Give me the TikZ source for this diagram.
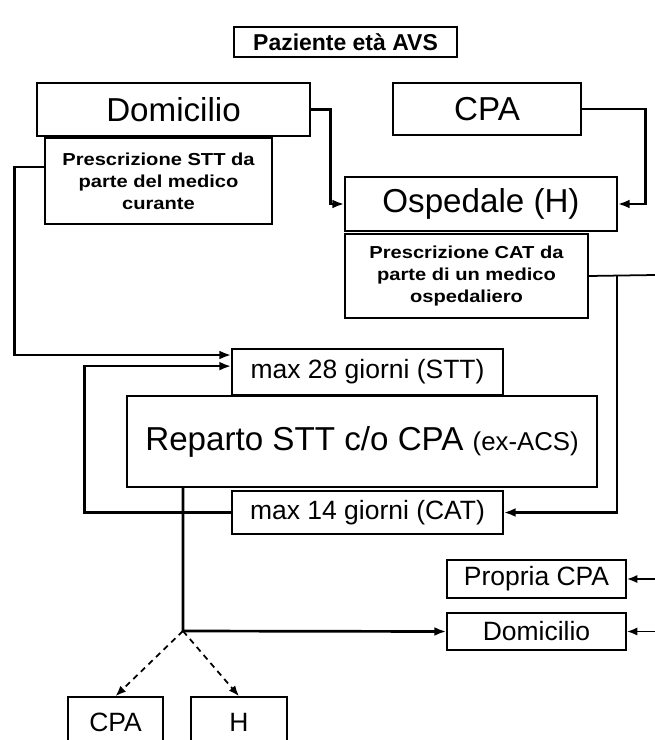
\documentclass[tikz,border=0pt]{standalone}
\usepackage{fontspec}
\setmainfont{Liberation Sans}
\newfontfamily\notefont[FakeStretch=1.16]{Liberation Sans}
\usetikzlibrary{arrows.meta, positioning}
\tikzset{box/.style={rectangle,draw,line width=1.4pt,align=center,inner sep=0pt},
  bigbox/.style={box,font=\fontsize{28.3}{34}\selectfont},
  midbox/.style={box,font=\fontsize{22.6}{27}\selectfont},
  notebox/.style={box,font=\notefont\bfseries\fontsize{14.8}{18.7}\selectfont},
  line/.style={line width=2.3pt},
  arrow/.style={line width=2.3pt,-{Latex[length=10pt,width=7.5pt]}},
  thinarrow/.style={line width=1.5pt,-{Latex[length=9pt,width=7pt]}}}

\begin{document}
\begin{tikzpicture}[x=0.03cm,y=-0.03cm]
\useasboundingbox (0,0) rectangle (655,740);
\node[box, line width=1.8pt, minimum width=6.69cm, minimum height=0.9cm,
  font=\bfseries\fontsize{19.6}{23}\selectfont] (title) at (345.5,42) {Paziente età AVS};
\node[bigbox, minimum width=8.19cm, minimum height=1.59cm] (dom) at (173.5,109.5) {Domicilio};
\node[notebox, minimum width=6.81cm, minimum height=2.58cm] (stt) at (158.5,181) {Prescrizione STT da\\parte del medico\\curante};
\node[bigbox, minimum width=5.64cm, minimum height=1.56cm] (cpa) at (487,109) {CPA};
\node[bigbox, minimum width=8.16cm, minimum height=1.62cm] (osp) at (481,204) {Ospedale (H)};
\node[notebox, minimum width=7.29cm, minimum height=2.52cm] (cat) at (466.5,276) {Prescrizione CAT da\\parte di un medico\\ospedaliero};
\node[midbox, minimum width=8.13cm, minimum height=1.38cm] (max28) at (367.5,372) {max 28 giorni (STT)};
\node[bigbox, minimum width=14.1cm, minimum height=2.73cm] (rep) at (362,441.5) {Reparto STT c/o CPA {\fontsize{22}{26}\selectfont(ex-ACS)}};
\node[midbox, minimum width=8.13cm, minimum height=1.29cm] (max14) at (367.5,512.5) {max 14 giorni (CAT)};
\node[midbox, minimum width=5.37cm, minimum height=1.14cm] (propria) at (536.5,579) {Propria CPA};
\node[midbox, minimum width=5.37cm, minimum height=1.11cm] (dom2) at (536.5,631.5) {Domicilio};
\node[midbox, minimum width=2.85cm, minimum height=1.5cm] (cpab) at (115.5,722) {CPA};
\node[midbox, minimum width=2.88cm, minimum height=1.5cm] (hb) at (239,722) {H};
\coordinate (split) at (183,631);
\coordinate (catj) at (617,275);
\coordinate (catR) at (655,275);
\coordinate (rA) at (655,579);
\coordinate (rB) at (655,631.5);
% entrate
\draw[arrow] ([yshift=12pt]stt.west) -- ++(-30,0) |- ([yshift=14.5pt]max28.west);
\draw[arrow] (dom.east) -- ++(20,0) |- (osp.west);
\draw[arrow] (cpa.east) -- ++(64,0) |- (osp.east);
\draw[line, line width=1.5pt] (cat.east) -- (catR);
\draw[arrow] (catj) |- (max14.east);
\draw[arrow] (max14.west) -- ++(-147,0) |- ([yshift=5pt]max28.west);
% uscite
\draw[arrow] (rep.south -| split) -- (split) -- (dom2.west);
\draw[thinarrow, dashed, dash pattern=on 5pt off 4pt] (split) -- (cpab.north);
\draw[thinarrow, dashed, dash pattern=on 5pt off 4pt] (split) -- (hb.north);
\draw[thinarrow] (rA) -- (propria.east);
\draw[thinarrow] (rB) -- (dom2.east);
\end{tikzpicture}
\end{document}
